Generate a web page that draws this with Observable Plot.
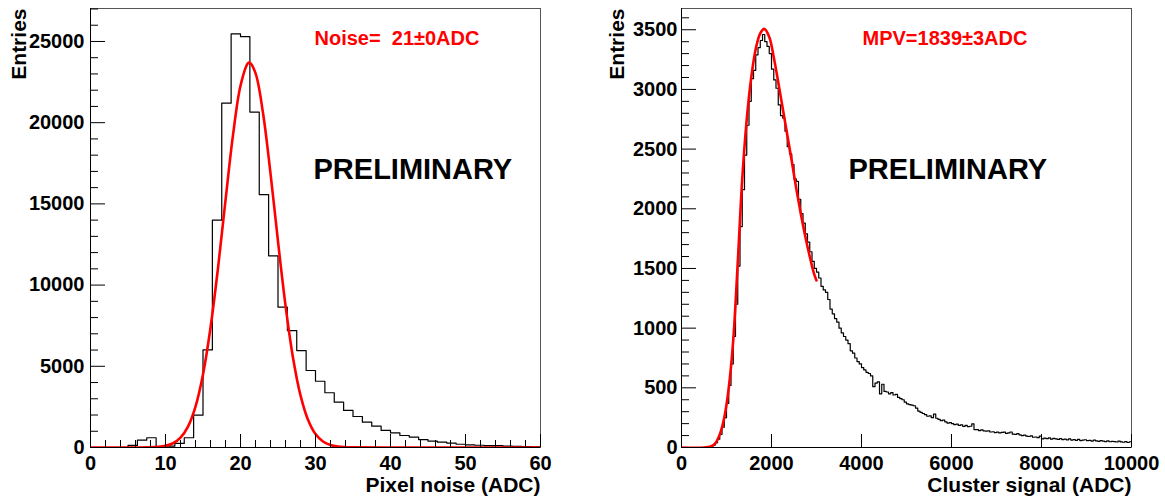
<!DOCTYPE html>
<html><head><meta charset="utf-8">
<script src="https://cdn.jsdelivr.net/npm/d3@7"></script>
<script src="https://cdn.jsdelivr.net/npm/@observablehq/plot@0.6"></script>
<style>
body{margin:0;background:#fff;}
#wrap{display:flex;width:1165px;height:500px;}
svg{overflow:visible;}
</style></head><body><div id="wrap"></div>
<script>
// ---------- Left panel: pixel noise ----------
const noiseBinStart = 0;
const noiseBinWidth = 1.25;
const noiseCounts = [0,0,0,0,130,450,600,50,80,250,600,1990,6010,14000,21200,25470,25300,20650,15570,11800,
  8640,7200,5970,4740,4080,3370,2790,2280,1910,1560,1310,1050,900,740,640,490,390,330,270,200,
  160,140,120,110,90,70,55,45];
const noiseFitX = [0,5,8,9,10,11,12,13,14,15,16,17,18,19,20,21,21.2,22,23,24,25,26,27,28,29,30,31,32,33,34,35,40,50,60];
const noiseFitY = [0,0,13,38,104,263,610,1290,2520,4500,7370,11050,15220,19230,22270,23660,23700,23050,20600,16880,12690,8750,5530,3210,1710,830,373,153,57,20,6,0,0,0];
const noiseXTicks = [0,10,20,30,40,50,60];
const noiseYTicks = [0,5000,10000,15000,20000,25000];
const noiseLabel = "Noise=\u00a0\u00a021±0ADC";
const noiseTitle = "Pixel noise (ADC)";

// ---------- Right panel: cluster signal ----------
const signalBinStart = 0;
const signalBinWidth = 50;
const signalCounts = [
  0,0,0,0,0,0,0,0,0,0,0,0,5,10,20,40,70,110,170,250,
  370,520,700,930,1200,1520,1850,2160,2450,2700,2900,3090,3160,3290,3350,3410,3460,3400,3360,3300,
  3170,3080,3010,2870,2780,2760,2650,2520,2460,2370,2250,2230,2080,1960,1880,1790,1720,1640,1560,1500,
  1470,1420,1350,1320,1300,1240,1160,1120,1080,1050,1000,960,930,900,870,810,790,750,720,700,
  670,650,630,620,600,510,540,550,450,530,470,465,450,460,440,445,420,410,400,380,
  365,360,355,350,330,305,295,285,275,262,265,250,280,245,235,225,230,215,205,208,
  200,192,196,185,190,176,185,175,178,198,150,150,142,148,140,138,140,130,132,125,
  128,122,126,128,118,122,130,112,110,116,105,100,104,96,92,98,86,88,82,95,
  72,78,74,80,70,76,72,68,74,66,70,64,72,62,66,60,68,58,62,65,
  58,60,54,62,56,52,58,54,50,56,48,52,50,46,54,47,44,50,42,48];
const signalFitX = [0,500,650,750,850,950,1050,1150,1250,1350,1450,1550,1650,1750,1839,1950,2050,2150,2250,2350,2450,2550,2650,2750,2850,2950,3000];
const signalFitY = [0,0,8,35,110,250,500,900,1550,2250,2750,3100,3340,3470,3507,3440,3270,3060,2840,2620,2400,2170,1960,1770,1600,1450,1400];
const signalXTicks = [0,2000,4000,6000,8000,10000];
const signalYTicks = [0,500,1000,1500,2000,2500,3000,3500];
const signalLabel = "MPV=1839±3ADC";
const signalTitle = "Cluster signal (ADC)";

const FONT = '"Liberation Sans", Arial, Helvetica, sans-serif';

function histSteps(start, width, counts) {
  const pts = counts.map((c, i) => ({x: start + i * width, y: c}));
  pts.push({x: start + counts.length * width, y: counts[counts.length - 1]});
  return pts;
}

function panel(o) {
  const hist = histSteps(o.binStart, o.binWidth, o.counts);
  const fit = o.fitX.map((x, i) => ({x, y: o.fitY[i]}));
  const marks = [
    Plot.line(hist, {x: "x", y: "y", curve: "step-after", stroke: "black", strokeWidth: 1.2, clip: true}),
    Plot.line(fit, {x: "x", y: "y", curve: "catmull-rom", stroke: "#ff0000", strokeWidth: 2.6, clip: true}),
    Plot.frame({stroke: "#555"}),
    Plot.ruleX([o.xd[0]], {stroke: "black"}),
    Plot.ruleY([0], {stroke: "black"}),
    // ticks (inward)
    Plot.axisX(o.xMajor, {tickSize: -13, tickFormat: () => "", label: null}),
    Plot.axisY(o.yMajor, {tickSize: -15, tickFormat: () => "", label: null}),
    Plot.axisY(o.yMinor, {tickSize: -8, tickFormat: () => "", label: null}),
    // tick labels
    Plot.axisX(o.xMajor, {tickSize: 0, tickPadding: 8, tickFormat: d => String(d), fontSize: 20, fontWeight: "bold", label: null}),
    Plot.axisY(o.yMajor, {tickSize: 0, tickPadding: o.yPad, tickFormat: d => String(d), fontSize: 20, fontWeight: "bold", label: null}),
    // annotations
    Plot.text([o.fitLabel], {text: d => d, frameAnchor: "top-left", dx: o.labelDx, dy: 30, textAnchor: "start", lineAnchor: "middle", fill: "#ff0000", fontSize: 20, fontWeight: "bold"}),
    Plot.text(["PRELIMINARY"], {text: d => d, frameAnchor: "top-left", dx: o.prelimDx, dy: 161, textAnchor: "start", lineAnchor: "middle", fill: "black", fontSize: 29, fontWeight: "bold"}),
    Plot.text([o.xTitle], {text: d => d, frameAnchor: "bottom-right", dy: o.xTitleDy, textAnchor: "end", lineAnchor: "middle", fill: "black", fontSize: 21, fontWeight: "bold"}),
    Plot.text(["Entries"], {text: d => d, frameAnchor: "top-left", dx: o.yTitleDx, dy: 0, rotate: -90, textAnchor: "end", lineAnchor: "middle", fill: "black", fontSize: 21, fontWeight: "bold"})
  ];
  if (o.xMinor) marks.splice(6, 0, Plot.axisX(o.xMinor, {tickSize: -7, tickFormat: () => "", label: null}));
  return Plot.plot({
    width: o.width, height: 500,
    marginLeft: o.ml, marginRight: o.mr, marginTop: 8, marginBottom: 53,
    x: {domain: o.xd, label: null},
    y: {domain: o.yd, label: null},
    style: {fontFamily: FONT, background: "white", overflow: "visible", color: "black"},
    marks
  });
}

const wrap = document.getElementById("wrap");
wrap.appendChild(panel({
  width: 582, ml: 90, mr: 42,
  xd: [0, 60], yd: [0, 27030],
  binStart: noiseBinStart, binWidth: noiseBinWidth, counts: noiseCounts,
  fitX: noiseFitX, fitY: noiseFitY,
  xMajor: noiseXTicks, xMinor: d3.range(0, 61, 2).filter(v => v % 10 !== 0),
  yMajor: noiseYTicks, yMinor: d3.range(0, 27001, 1000).filter(v => v % 5000 !== 0),
  yPad: 6, fitLabel: noiseLabel, labelDx: 224, prelimDx: 223,
  xTitle: noiseTitle, xTitleDy: 38, yTitleDx: -71
}));
wrap.appendChild(panel({
  width: 583, ml: 99, mr: 34,
  xd: [0, 10000], yd: [0, 3678],
  binStart: signalBinStart, binWidth: signalBinWidth, counts: signalCounts,
  fitX: signalFitX, fitY: signalFitY,
  xMajor: signalXTicks, xMinor: null,
  yMajor: signalYTicks, yMinor: d3.range(0, 3601, 100).filter(v => v % 500 !== 0),
  yPad: 4, fitLabel: signalLabel, labelDx: 181, prelimDx: 167,
  xTitle: signalTitle, xTitleDy: 38, yTitleDx: -64
}));
</script></body></html>
